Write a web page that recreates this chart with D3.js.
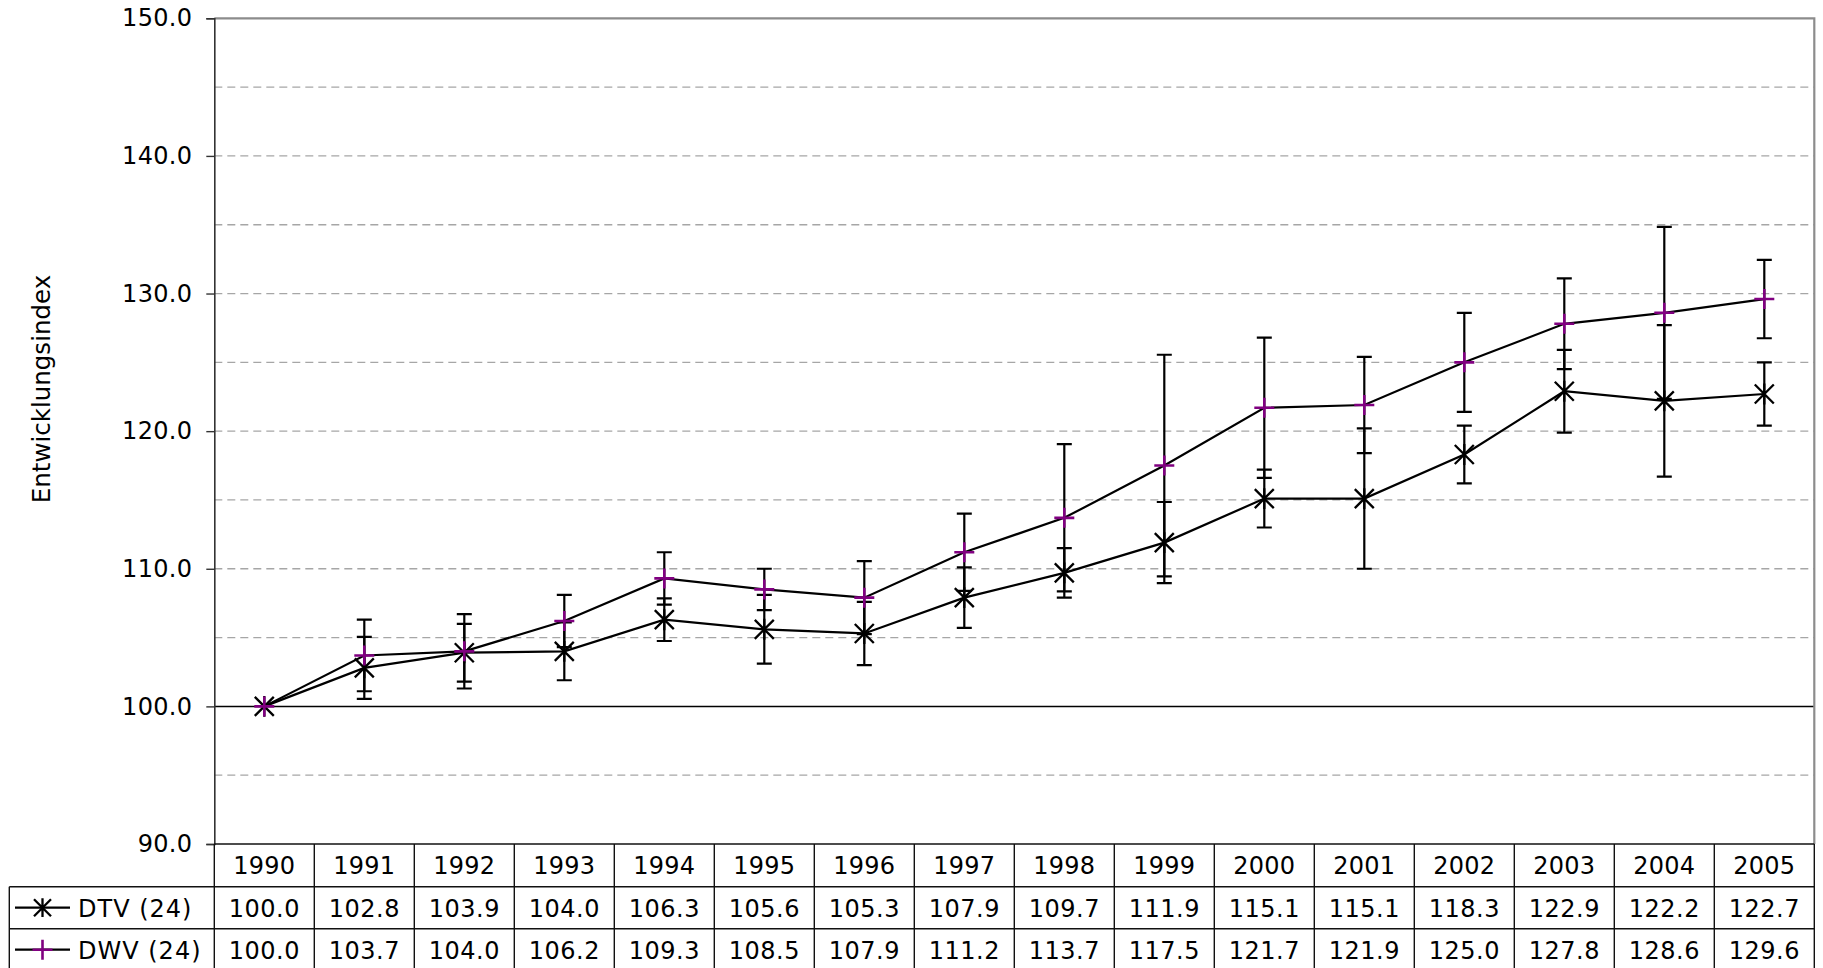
<!DOCTYPE html>
<html><head><meta charset="utf-8">
<script src="https://cdn.jsdelivr.net/npm/d3@7"></script>
<style>
html,body{margin:0;padding:0;background:#fff;}
svg{display:block;}
text{font-family:"DejaVu Sans",Verdana,sans-serif;fill:#000;}
</style></head>
<body>
<svg id="c" width="1823" height="968"></svg>
<script>
const years = ["1990","1991","1992","1993","1994","1995","1996","1997","1998","1999","2000","2001","2002","2003","2004","2005"];
const seriesNames = ["DTV (24)","DWV (24)"];
const dtv = [100.0,102.8,103.9,104.0,106.3,105.6,105.3,107.9,109.7,111.9,115.1,115.1,118.3,122.9,122.2,122.7];
const dwv = [100.0,103.7,104.0,106.2,109.3,108.5,107.9,111.2,113.7,117.5,121.7,121.9,125.0,127.8,128.6,129.6];
const dtvErr = [0,2.25,2.1,2.1,1.55,2.5,2.3,2.2,1.8,2.95,2.1,5.1,2.1,3.0,5.5,2.3];
const dwvErr = [0,2.6,2.7,1.9,1.9,1.5,2.65,2.8,5.35,8.05,5.1,3.5,3.6,3.3,6.25,2.85];
const yTicks = [90,100,110,120,130,140,150];
const gridVals = [95,105,110,115,120,125,130,135,140,145];
const yTitle = "Entwicklungsindex";

const svg = d3.select("#c");
const L = 214.3, R = 1814.3, T = 18.3, B = 844;
const rowH = 42;
const x = d3.scaleBand().domain(years).range([L, R]).padding(0);
const cx = d => x(d) + x.bandwidth()/2;
const y = d3.scaleLinear().domain([90,150]).range([B, T]);

// gridlines
svg.append("g").selectAll("line").data(gridVals).join("line")
  .attr("x1", L).attr("x2", R).attr("y1", d=>y(d)).attr("y2", d=>y(d))
  .attr("stroke", "#a6a6a6").attr("stroke-width", 1.3).attr("stroke-dasharray", "8,5");
// 100 line
svg.append("line").attr("x1", L).attr("x2", R).attr("y1", y(100)).attr("y2", y(100))
  .attr("stroke", "#000").attr("stroke-width", 1.5);
// plot border top/right
svg.append("path").attr("d", `M${L},${y(150)}H${R}V${B}`).attr("fill","none")
  .attr("stroke", "#8c8c8c").attr("stroke-width", 2.2);

// y axis
const yAxis = d3.axisLeft(y).tickValues(yTicks).tickFormat(d3.format(".1f")).tickSize(8).tickPadding(14);
const ga = svg.append("g").attr("transform", `translate(${L},0)`).call(yAxis);
ga.select(".domain").attr("stroke", "#333").attr("stroke-width", 1.6);
ga.selectAll(".tick line").attr("stroke", "#333").attr("stroke-width", 1.4);
ga.selectAll(".tick text").attr("font-size", 24).attr("font-family", "DejaVu Sans").attr("fill", "#111").attr("letter-spacing", 0.3);

// y title
svg.append("text").attr("transform", `translate(50,389) rotate(-90)`)
  .attr("text-anchor", "middle").attr("font-size", 24.5).attr("fill", "#222").text(yTitle);

// error bars
function errBars(vals, errs) {
  const g = svg.append("g").attr("stroke", "#000").attr("stroke-width", 2.2).attr("fill", "none");
  years.forEach((yr, i) => {
    if (!errs[i]) return;
    const xc = cx(yr), y1 = y(vals[i] + errs[i]), y2 = y(vals[i] - errs[i]);
    g.append("path").attr("d", `M${xc},${y1}V${y2}M${xc-7.5},${y1}H${xc+7.5}M${xc-7.5},${y2}H${xc+7.5}`);
  });
}
errBars(dtv, dtvErr);
errBars(dwv, dwvErr);

// lines
const line = d3.line().x((d,i)=>cx(years[i])).y(d=>y(d));
svg.append("path").datum(dtv).attr("d", line).attr("fill","none").attr("stroke","#000").attr("stroke-width",2.2);
svg.append("path").datum(dwv).attr("d", line).attr("fill","none").attr("stroke","#000").attr("stroke-width",2.2);

// markers
function starMarker(g, px, py, s) {
  g.append("path").attr("d", `M${px-s},${py-s}L${px+s},${py+s}M${px-s},${py+s}L${px+s},${py-s}M${px},${py-s*1.1}V${py+s*1.1}`)
    .attr("stroke", "#000").attr("stroke-width", 2.3).attr("fill", "none");
}
function plusMarker(g, px, py, s) {
  g.append("path").attr("d", `M${px-s},${py}H${px+s}M${px},${py-s}V${py+s}`)
    .attr("stroke", "#800080").attr("stroke-width", 2.6).attr("fill", "none");
}
const gm = svg.append("g");
dtv.forEach((v,i)=>starMarker(gm, cx(years[i]), y(v), 9.5));
dwv.forEach((v,i)=>plusMarker(gm, cx(years[i]), y(v), 10));

// data table
const tg = svg.append("g");
const r0 = B, r1 = B + rowH + 0.7, r2 = r1 + rowH, r3 = r2 + rowH;
const tl = (x1,y1,x2,y2) => tg.append("line").attr("x1",x1).attr("y1",y1).attr("x2",x2).attr("y2",y2)
  .attr("stroke","#111").attr("stroke-width",1.4);
tl(L, r0, R, r0);
tl(9.3, r1, R, r1);
tl(9.3, r2, R, r2);
tl(9.3, r1, 9.3, r3);
years.forEach(yr => tl(x(yr), r0, x(yr), r3));
tl(R, r0, R, r3);

tg.selectAll("text.h").data(years).join("text").attr("class","h")
  .attr("x", d=>cx(d)).attr("y", (r0+r1)/2 + 9).attr("text-anchor","middle").attr("font-size",24).attr("letter-spacing",0.3).text(d=>d);
const fmt = d3.format(".1f");
[dtv, dwv].forEach((arr, k) => {
  const yy = [(r1+r2)/2 + 9, (r2+r3)/2 + 9][k];
  tg.selectAll(null).data(arr).join("text")
    .attr("x", (d,i)=>cx(years[i])).attr("y", yy).attr("text-anchor","middle").attr("font-size",24).attr("letter-spacing",0.5).text(d=>fmt(d));
  // legend key
  const ky = [(r1+r2)/2, (r2+r3)/2][k];
  tg.append("line").attr("x1",15).attr("x2",70).attr("y1",ky).attr("y2",ky).attr("stroke","#000").attr("stroke-width",2.2);
  if (k === 0) starMarker(tg, 42.5, ky, 8.5); else plusMarker(tg, 42.5, ky, 10);
  tg.append("text").attr("x", 78).attr("y", yy).attr("font-size",24).attr("letter-spacing",1).text(seriesNames[k]);
});
</script>
</body></html>
